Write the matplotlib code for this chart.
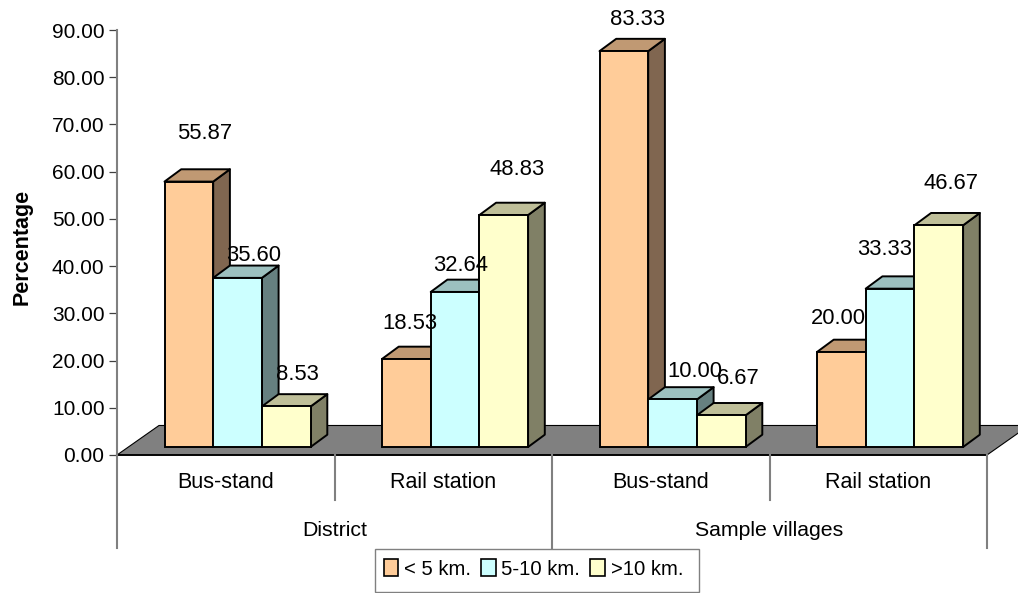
import numpy as np
import matplotlib
matplotlib.use("Agg")
import matplotlib.pyplot as plt
from matplotlib.patches import Polygon, Patch, Rectangle

plt.rcParams["font.family"] = ["Liberation Sans", "DejaVu Sans"]

# Data
groups = ["District", "Sample villages"]
places = ["Bus-stand", "Rail station", "Bus-stand", "Rail station"]
series = ["< 5 km.", "5-10 km.", ">10 km."]
near = [55.87, 18.53, 83.33, 20.00]
mid = [35.60, 32.64, 10.00, 33.33]
far = [8.53, 48.83, 6.67, 46.67]

# Colours: front, top, side
front = ["#FFCC99", "#CCFFFF", "#FFFFCC"]
top = ["#C09973", "#9CC0BF", "#BFBF99"]
side = ["#806650", "#668080", "#808066"]

# Label offsets from the bar's top left corner, pixels
label_dx = [[40, 28, 38, 21], [40, 30, 47, 19], [36, 38, 41, 37]]
label_dy = [[48, 35, 32, 33], [22, 26, 28, 39], [32, 46, 37, 42]]

fig = plt.figure(figsize=(10.18, 5.93), dpi=100)
ax = fig.add_axes([117 / 1018, 138 / 593, 870 / 1018, 425 / 593])
ax.set_xlim(0, 4)
ax.set_ylim(0, 90)

bar_w = 48.7 / 217.5
bar_start = 47.5 / 217.5
base = 8 / 4.72
dep_x = 16.7 / 217.5
dep_y = 12.3 / 4.72
scale = 1.006

# Floor
ax.add_patch(Polygon([(0, 0), (4, 0), (4 + 42 / 217.5, 29.5 / 4.72), (42 / 217.5, 29.5 / 4.72)],
                     closed=True, facecolor="#808080", edgecolor="black", lw=0.8, clip_on=False, zorder=1))
ax.plot([0, 4], [0, 0], color="black", lw=1.3, clip_on=False, zorder=1.5)

# Bars, left to right so each one covers the side of the previous
for c in range(4):
    for s, vals in enumerate([near, mid, far]):
        x0 = c + bar_start + s * bar_w
        x1 = x0 + bar_w
        y1 = base + vals[c] * scale
        kw = dict(closed=True, edgecolor="black", lw=1.4, clip_on=False, zorder=2, joinstyle="round")
        ax.add_patch(Polygon([(x1, base), (x1 + dep_x, base + dep_y), (x1 + dep_x, y1 + dep_y), (x1, y1)],
                             facecolor=side[s], **kw))
        ax.add_patch(Polygon([(x0, y1), (x0 + dep_x, y1 + dep_y), (x1 + dep_x, y1 + dep_y), (x1, y1)],
                             facecolor=top[s], **kw))
        ax.bar(x0, vals[c] * scale, bar_w, bottom=base, align="edge", color=front[s],
               edgecolor="black", lw=1.4, clip_on=False, zorder=2)
        ax.annotate(f"{vals[c]:.2f}", (x0, y1), xytext=(label_dx[s][c], label_dy[s][c]),
                    textcoords="offset pixels", ha="center", va="center", fontsize=15.8, zorder=3)

# Axes
for name in ["top", "right", "bottom"]:
    ax.spines[name].set_visible(False)
ax.spines["left"].set_color("#808080")
ax.spines["left"].set_linewidth(1.5)
ax.set_xticks([])
ax.set_yticks(np.arange(0, 91, 10))
ax.set_yticklabels([f"{v:.2f}" for v in np.arange(0, 91, 10)], fontsize=15)
ax.tick_params(axis="y", length=6, width=0.9, color="#404040", pad=3)
ax.set_ylabel("Percentage", fontsize=15.5, fontweight="bold")
ax.yaxis.set_label_coords(-84 / 870, 0.49)

# Category axis below the floor
drop = 93 / 4.72
for i in range(5):
    d = drop if i % 2 == 0 else 45 / 4.72
    ax.plot([i, i], [0, -d], color="#808080", lw=1.5, clip_on=False)
for i, p in enumerate(places):
    ax.annotate(p, (i + 0.5, 0), xytext=(0, -27), textcoords="offset pixels",
                ha="center", va="center", fontsize=15.5)
for i, g in enumerate(groups):
    ax.annotate(g, (2 * i + 1, 0), xytext=(0, -75), textcoords="offset pixels",
                ha="center", va="center", fontsize=15.3)

# Legend, with its frame drawn apart since the original box is not centred on the entries
fig.add_artist(Rectangle((375 / 1018, 1 / 593), 324 / 1018, 43 / 593, transform=fig.transFigure,
                         facecolor="white", edgecolor="#808080", lw=1.0))
handles = [Patch(facecolor=front[i], edgecolor="black", lw=1.2) for i in range(3)]
leg = fig.legend(handles, series, loc="center", bbox_to_anchor=(533.5 / 1018, 24 / 593), ncols=3, fontsize=14.6,
                 frameon=False, handlelength=0.72, handleheight=0.9,
                 handletextpad=0.28, columnspacing=0.5, borderpad=0, borderaxespad=0)

fig.savefig("out.png", dpi=100)
